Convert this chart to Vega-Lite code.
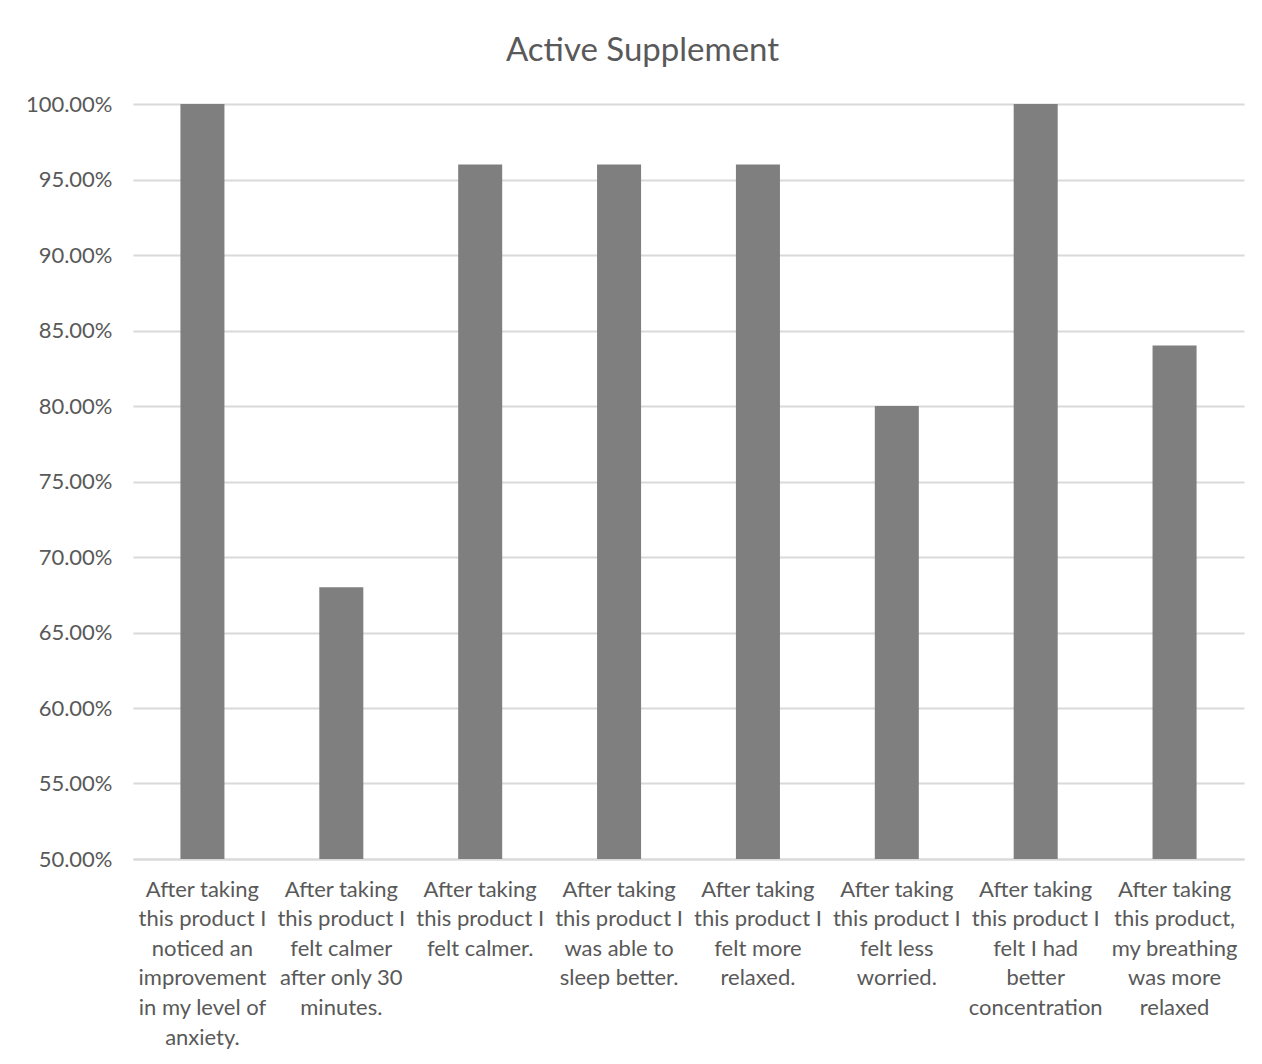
{
  "$schema": "https://vega.github.io/schema/vega-lite/v6.json",
  "width": 1111,
  "height": 755,
  "autosize": {"type": "none"},
  "padding": {"left": 133, "top": 104, "right": 18, "bottom": 205},
  "background": "white",
  "title": {
    "text": "Active Supplement",
    "font": "Lato",
    "fontSize": 33,
    "fontWeight": "normal",
    "color": "#595959",
    "anchor": "middle",
    "dx": -46,
    "offset": 25
  },
  "data": {
    "values": [
      {"statement": "After taking|this product I|noticed an|improvement|in my level of|anxiety.", "pct": 1.00},
      {"statement": "After taking|this product I|felt calmer|after only 30|minutes.", "pct": 0.68},
      {"statement": "After taking|this product I|felt calmer.", "pct": 0.96},
      {"statement": "After taking|this product I|was able to|sleep better.", "pct": 0.96},
      {"statement": "After taking|this product I|felt more|relaxed.", "pct": 0.96},
      {"statement": "After taking|this product I|felt less|worried.", "pct": 0.80},
      {"statement": "After taking|this product I|felt I had|better|concentration", "pct": 1.00},
      {"statement": "After taking|this product,|my breathing|was more|relaxed", "pct": 0.84}
    ]
  },
  "mark": {"type": "bar", "color": "#7f7f7f", "clip": true},
  "encoding": {
    "x": {
      "field": "statement",
      "type": "nominal",
      "sort": null,
      "title": null,
      "scale": {"paddingInner": 0.683, "paddingOuter": 0.3415},
      "axis": {
        "labelExpr": "split(datum.value, '|')",
        "labelAngle": 0,
        "labelFont": "Lato",
        "labelFontSize": 22,
        "labelColor": "#595959",
        "labelLineHeight": 29.6,
        "labelBaseline": "top",
        "labelPadding": 20,
        "labelLimit": 0,
        "ticks": false,
        "domainColor": "#d9d9d9",
        "domainWidth": 2,
        "grid": false
      }
    },
    "y": {
      "field": "pct",
      "type": "quantitative",
      "title": null,
      "scale": {"domain": [0.5, 1.0], "nice": false, "zero": false},
      "axis": {
        "values": [0.5, 0.55, 0.6, 0.65, 0.7, 0.75, 0.8, 0.85, 0.9, 0.95, 1.0],
        "format": ".2%",
        "labelFont": "Lato",
        "labelFontSize": 22,
        "labelColor": "#595959",
        "labelPadding": 21,
        "ticks": false,
        "domain": false,
        "grid": true,
        "gridColor": "#d9d9d9",
        "gridWidth": 2
      }
    }
  },
  "config": {"view": {"stroke": null}}
}
